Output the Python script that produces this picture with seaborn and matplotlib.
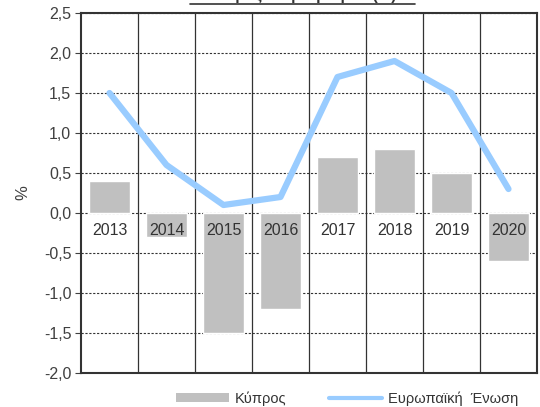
import numpy as np
import pandas as pd
import matplotlib
matplotlib.use("Agg")
import matplotlib.pyplot as plt
import seaborn as sns
from matplotlib.ticker import FuncFormatter, MultipleLocator, FixedLocator
from matplotlib.patches import Patch
from matplotlib.lines import Line2D

years = ["2013", "2014", "2015", "2016", "2017", "2018", "2019", "2020"]
cyprus = [0.4, -0.3, -1.5, -1.2, 0.7, 0.8, 0.5, -0.6]
eu = [1.5, 0.6, 0.1, 0.2, 1.7, 1.9, 1.5, 0.3]
series_names = ["Κύπρος", "Ευρωπαϊκή  Ένωση"]
title_text = "Ρυθμός Πληθωρισμού (%)"

sns.set_theme(style="white")
plt.rcParams["font.family"] = ["Liberation Sans", "DejaVu Sans"]

fig = plt.figure(figsize=(5.4, 4.07), dpi=100)
ax = fig.add_axes([81/540, 1-373/407, (537-81)/540, (373-13)/407])

df = pd.DataFrame({"year": years, "cy": cyprus, "eu": eu})
sns.barplot(data=df, x="year", y="cy", color="#c0c0c0", saturation=1,
            width=0.72, ax=ax, zorder=2)
sns.lineplot(x=np.arange(len(years)), y=df["eu"], color="#99ccff", lw=4.5,
             ax=ax, zorder=3, solid_capstyle="round")

ax.set_xlim(-0.5, len(years)-0.5)
ax.set_ylim(-2.0, 2.5)
ax.yaxis.set_major_locator(MultipleLocator(0.5))
ax.yaxis.set_major_formatter(FuncFormatter(lambda v, p: f"{v:.1f}".replace(".", ",")))
ax.tick_params(axis="y", labelsize=11.5, labelcolor="#404040", length=4,
               width=0.8, color="#404040", left=True, pad=3)
ax.set_xticks([])
ax.xaxis.set_minor_locator(FixedLocator(np.arange(0.5, len(years)-0.5, 1)))
ax.tick_params(axis="x", which="both", bottom=False, length=0)
ax.grid(axis="y", which="major", color="#333333", lw=0.8, ls=(0, (2, 1.5)), zorder=1)
ax.grid(axis="x", which="minor", color="#333333", lw=0.9, ls="-", zorder=1)
ax.set_axisbelow(True)
ax.set_xlabel("")
ax.set_ylabel("%", fontsize=12, color="#404040", labelpad=10)
for s in ax.spines.values():
    s.set_color("#333333")
    s.set_linewidth(1.5)
    s.set_visible(True)

sec = ax.secondary_xaxis((0 - (-2.0)) / 4.5)
sec.set_xticks(np.arange(len(years)), labels=years)
sec.tick_params(axis="x", length=0, labelsize=11.5, labelcolor="#333333", pad=7)
sec.spines["bottom"].set_visible(False)
sec.set_zorder(5)

handles = [Patch(facecolor="#c0c0c0", edgecolor="none"),
           Line2D([0], [0], color="#99ccff", lw=3)]
fig.legend(handles, series_names, loc="center", bbox_to_anchor=(0.643, 0.021),
           ncol=2, frameon=False, fontsize=10.5, handlelength=3.6,
           handleheight=0.55, columnspacing=2.9, handletextpad=0.45,
           labelcolor="#333333")

fig.text(302/540, 1 - 3/407, title_text, ha="center", va="bottom",
         fontsize=11, fontweight="bold", color="#333333")
fig.add_artist(Line2D([190/540, 415/540], [1 - 4/407, 1 - 4/407],
                      color="#333333", lw=1.2, transform=fig.transFigure))

fig.savefig("out.png", dpi=100)
